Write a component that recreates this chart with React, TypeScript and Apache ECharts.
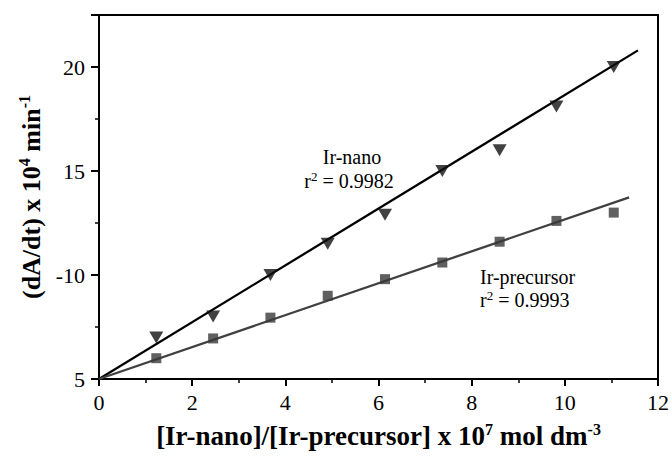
import React, { useEffect, useRef } from "react";
import * as echarts from "echarts";

// Concentration ratio (x 10^7 mol dm^-3)
const xValues = [1.23, 2.45, 3.68, 4.91, 6.14, 7.37, 8.6, 9.82, 11.05];
// dA/dt x 10^4 min^-1
const nanoValues = [7, 8, 10, 11.5, 12.9, 15, 16, 18.1, 20];
const precursorValues = [6, 6.95, 7.95, 9, 9.8, 10.6, 11.6, 12.6, 13];
// Linear fits (start / end points)
const nanoFit = [[0, 5], [11.57, 20.8]];
const precursorFit = [[0, 5], [11.38, 13.73]];
// Y tick labels as printed in the figure
const yTickValues = [5, 10, 15, 20];
const yTickLabels = ["5", "-10", "15", "20"];
const xTickValues = [0, 2, 4, 6, 8, 10, 12];

const FONT = '"Liberation Serif", "Times New Roman", serif';

export default function App() {
  const ref = useRef<HTMLDivElement>(null);
  useEffect(() => {
    if (!ref.current) return;
    const chart = echarts.init(ref.current, null, { renderer: "svg" });
    const pair = (xs: number[], ys: number[]) => xs.map((x, i) => [x, ys[i]]);
    const annRich = {
      n: { fontFamily: FONT, fontSize: 20, color: "#000", lineHeight: 22 },
      s: { fontFamily: FONT, fontSize: 13, color: "#000", verticalAlign: "top", lineHeight: 13 },
    };
    chart.setOption({
      animation: false,
      backgroundColor: "#fff",
      grid: {
        left: 99,
        right: 13,
        top: 15,
        bottom: 77,
        show: true,
        borderColor: "#000",
        borderWidth: 2,
      },
      xAxis: {
        type: "value",
        min: xTickValues[0],
        max: xTickValues[xTickValues.length - 1],
        interval: 2,
        axisLine: { show: true, lineStyle: { color: "#000", width: 2 } },
        axisTick: { show: true, length: 7, lineStyle: { color: "#000", width: 2 } },
        minorTick: { show: true, splitNumber: 2, length: 4, lineStyle: { color: "#000", width: 1.5 } },
        splitLine: { show: false },
        axisLabel: { fontFamily: FONT, fontSize: 22, color: "#000", margin: 12 },
        name: "{b|[Ir-nano]/[Ir-precursor] x 10}{s|7}{b| mol dm}{s|-3}",
        nameLocation: "middle",
        nameGap: 42,
        nameTextStyle: {
          rich: {
            b: { fontFamily: FONT, fontWeight: "bold", fontSize: 27, color: "#000", lineHeight: 30 },
            s: { fontFamily: FONT, fontWeight: "bold", fontSize: 16, color: "#000", verticalAlign: "top", lineHeight: 16 },
          },
        },
      },
      yAxis: [
        {
          type: "value",
          position: "left",
          min: 5,
          max: 22.5,
          interval: 2.5,
          axisLine: { show: true, lineStyle: { color: "#000", width: 2 } },
          axisTick: { show: true, length: 4, lineStyle: { color: "#000", width: 1.5 } },
          splitLine: { show: false },
          axisLabel: {
            fontFamily: FONT,
            fontSize: 22,
            color: "#000",
            margin: 14,
            formatter: (v: number) => {
              const i = yTickValues.indexOf(v);
              return i >= 0 ? yTickLabels[i] : "";
            },
          },
          name: "{b|(dA/dt) x 10}{s|4}{b| min}{s|-1}",
          nameLocation: "middle",
          nameRotate: 90,
          nameGap: 52,
          nameTextStyle: {
            rich: {
              b: { fontFamily: FONT, fontWeight: "bold", fontSize: 26, color: "#000", lineHeight: 30 },
              s: { fontFamily: FONT, fontWeight: "bold", fontSize: 16, color: "#000", verticalAlign: "top", lineHeight: 16 },
            },
          },
        },
        {
          type: "value",
          position: "left",
          min: 5,
          max: 22.5,
          interval: 5,
          axisLine: { show: false },
          axisTick: { show: true, length: 8, lineStyle: { color: "#000", width: 2 } },
          splitLine: { show: false },
          axisLabel: { show: false },
        },
      ],
      graphic: [
        {
          type: "text",
          x: 352,
          y: 157,
          style: { text: "Ir-nano", font: `20px ${FONT}`, fill: "#000", align: "center", verticalAlign: "middle" },
        },
        {
          type: "text",
          x: 349,
          y: 181,
          style: { text: "{n|r}{s|2}{n| = 0.9982}", rich: annRich, align: "center", verticalAlign: "middle" },
        },
        {
          type: "text",
          x: 480,
          y: 277,
          style: { text: "Ir-precursor", font: `20px ${FONT}`, fill: "#000", align: "left", verticalAlign: "middle" },
        },
        {
          type: "text",
          x: 480,
          y: 300,
          style: { text: "{n|r}{s|2}{n| = 0.9993}", rich: annRich, align: "left", verticalAlign: "middle" },
        },
      ],
      series: [
        {
          name: "Ir-nano fit",
          type: "line",
          data: nanoFit,
          showSymbol: false,
          symbol: "none",
          lineStyle: { color: "#000", width: 2.3 },
          z: 2,
        },
        {
          name: "Ir-precursor fit",
          type: "line",
          data: precursorFit,
          showSymbol: false,
          symbol: "none",
          lineStyle: { color: "#404040", width: 2.3 },
          z: 2,
        },
        {
          name: "Ir-nano",
          type: "scatter",
          data: pair(xValues, nanoValues),
          symbol: "triangle",
          symbolRotate: 180,
          symbolSize: [14, 12],
          itemStyle: { color: "#111" },
          z: 3,
        },
        {
          name: "Ir-precursor",
          type: "scatter",
          data: pair(xValues, precursorValues),
          symbol: "rect",
          symbolSize: 10,
          itemStyle: { color: "#383838" },
          z: 3,
        },
      ],
    });
    return () => chart.dispose();
  }, []);
  return <div ref={ref} style={{ width: 672, height: 456, position: "absolute", left: 0, top: 0 }} />;
}
